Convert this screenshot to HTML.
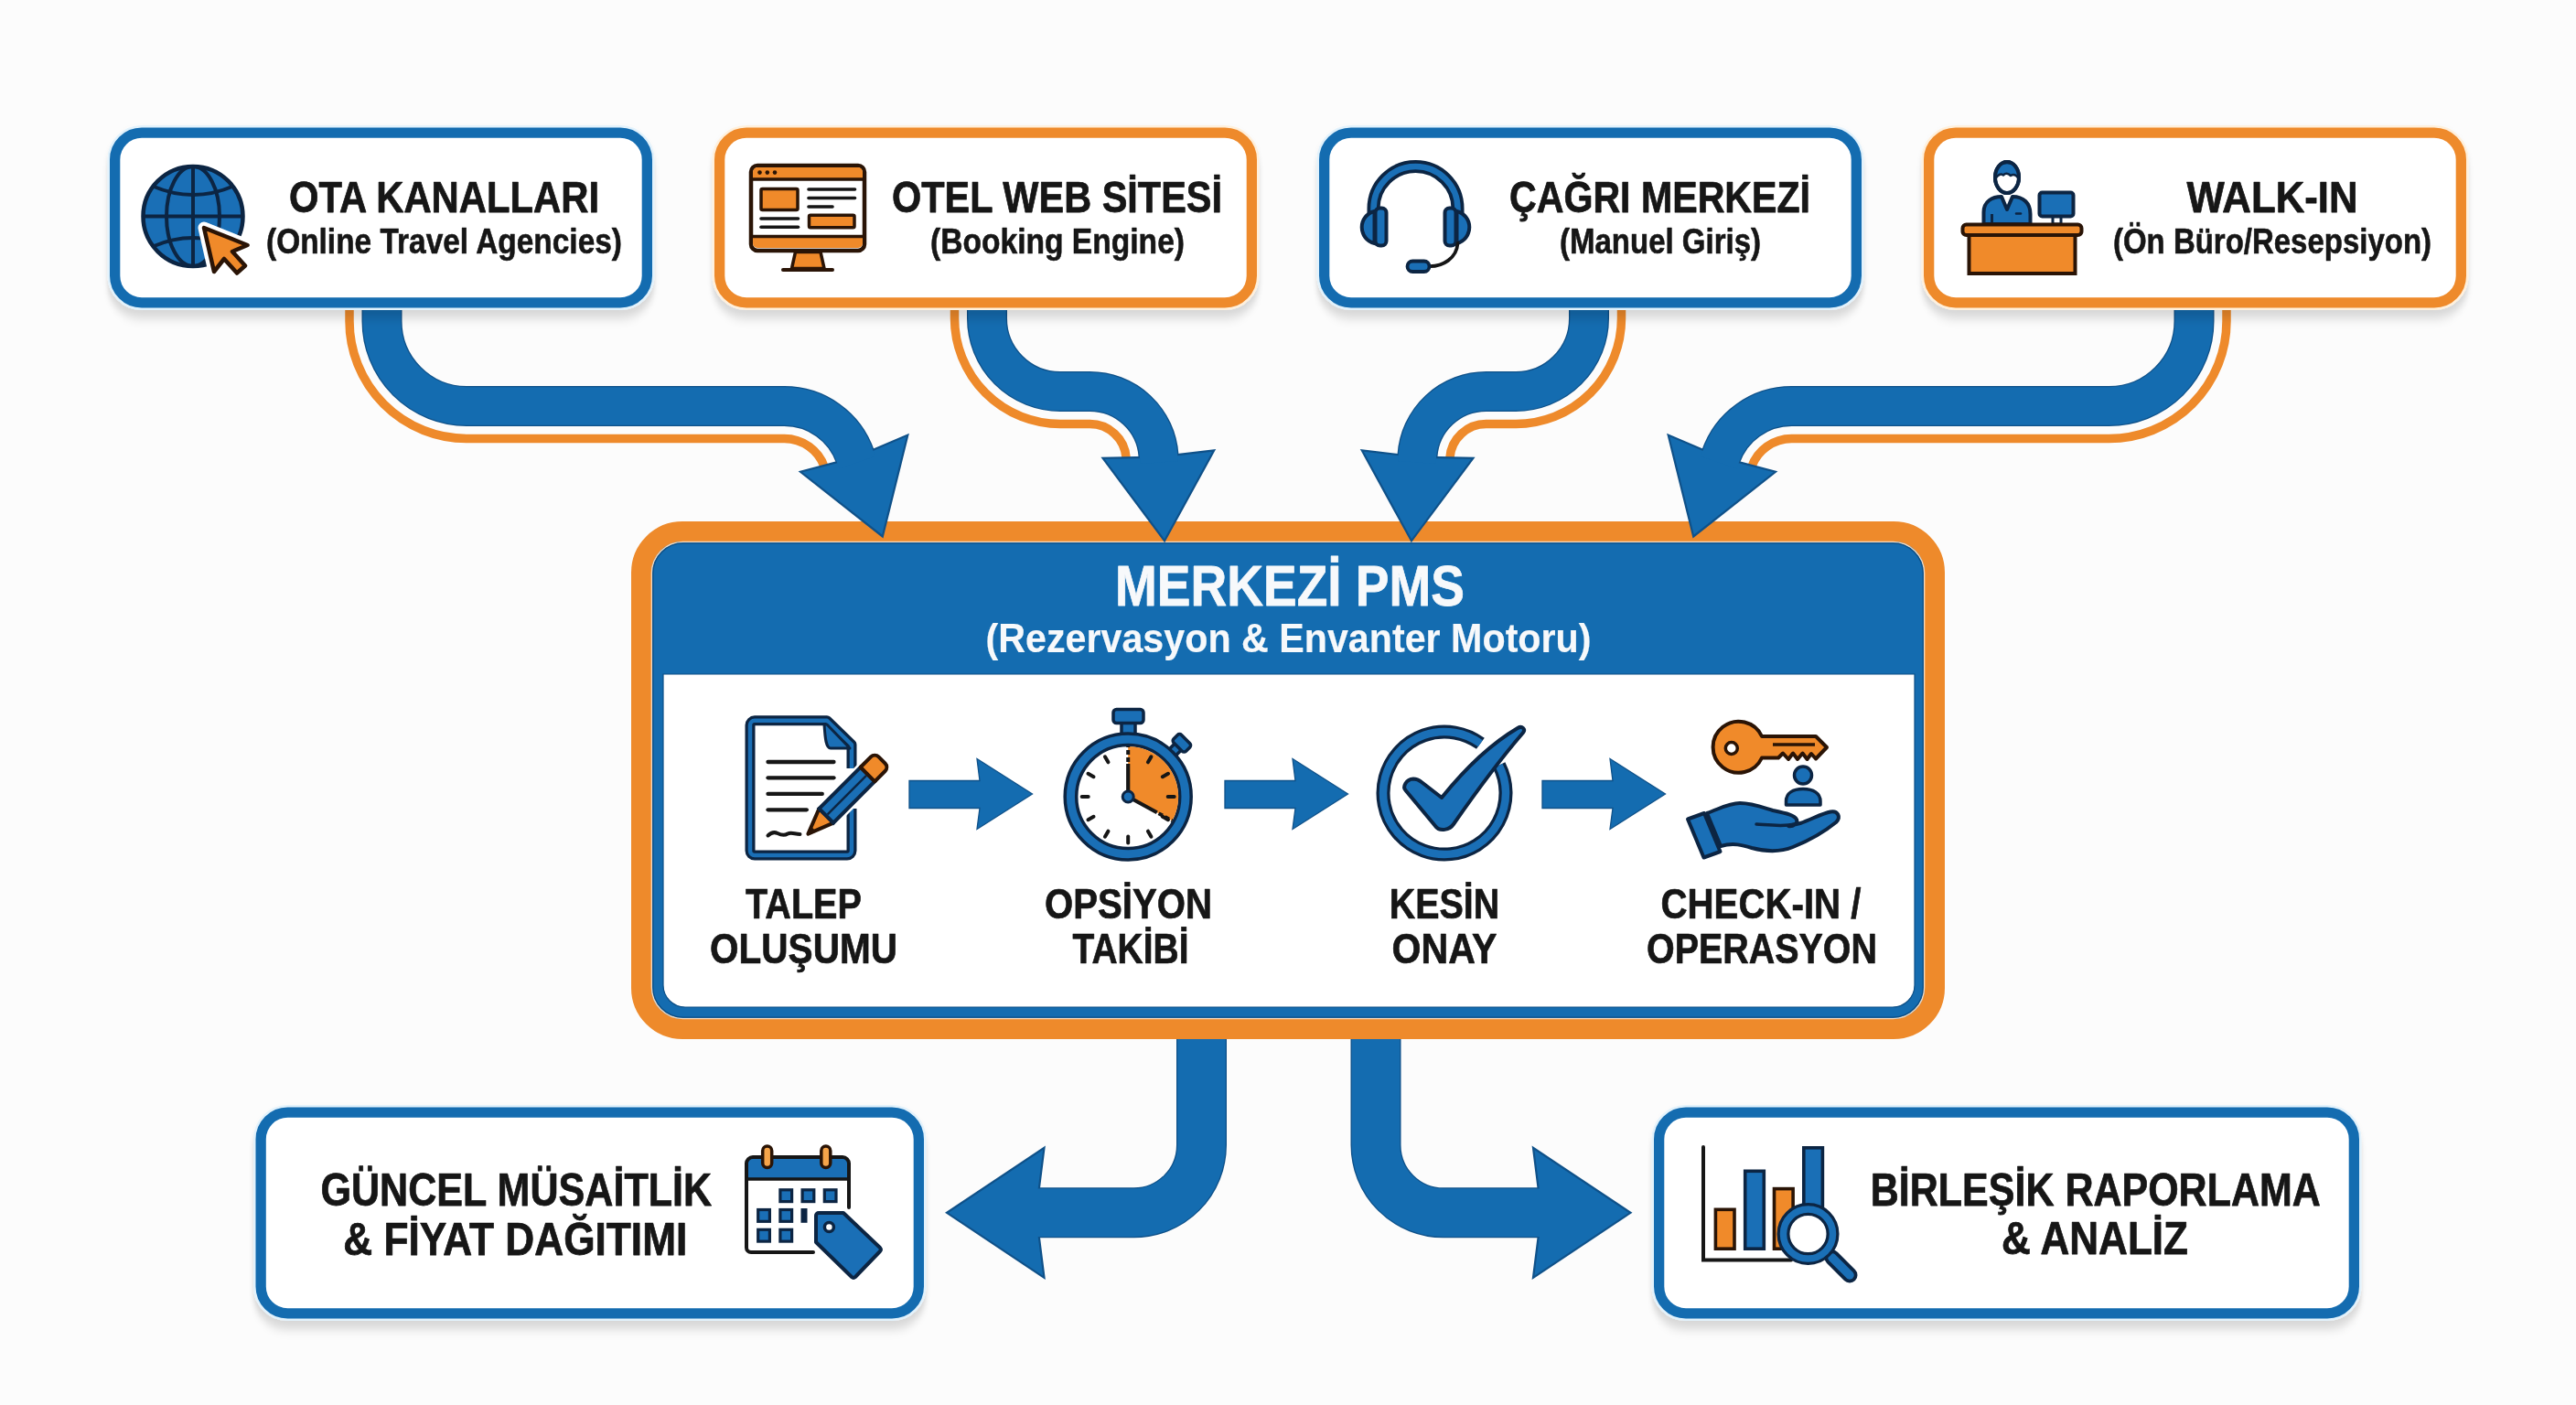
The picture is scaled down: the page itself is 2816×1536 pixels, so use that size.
<!DOCTYPE html>
<html><head><meta charset="utf-8"><style>
html,body{margin:0;padding:0;background:#fcfcfc;}
body{width:2816px;height:1536px;overflow:hidden;}
svg{display:block;font-family:"Liberation Sans", sans-serif;will-change:transform;}
</style></head><body>
<svg width="2816" height="1536" viewBox="0 0 2816 1536">
<defs>
<filter id="sh" x="-10%" y="-20%" width="120%" height="150%">
<feDropShadow dx="0" dy="9" stdDeviation="2.5 6" flood-color="#000" flood-opacity="0.15"/>
</filter>
<filter id="sh2" x="-10%" y="-20%" width="120%" height="150%">
<feDropShadow dx="0" dy="2" stdDeviation="2" flood-color="#000" flood-opacity="0.10"/>
</filter>
</defs>
<rect width="2816" height="1536" fill="#fcfcfc"/>

<g><path d="M1313.50,1130.00 L1313.50,1251.80 A74.00,74.00 0 0 1 1239.50,1325.80 L1130.50,1325.80" fill="none" stroke="#0f5189" stroke-width="55"/>
<polygon points="1141.50,1396.80 1035.00,1325.80 1141.50,1254.80 1132.50,1325.80" fill="#146cb0" stroke="#0f5189" stroke-width="2.2" stroke-linejoin="miter"/>
<path d="M1313.50,1130.00 L1313.50,1251.80 A74.00,74.00 0 0 1 1239.50,1325.80 L1130.50,1325.80 L1126.50,1325.80" fill="none" stroke="#146cb0" stroke-width="52.4"/></g>
<g transform="translate(2817.5,0) scale(-1,1)"><path d="M1313.50,1130.00 L1313.50,1251.80 A74.00,74.00 0 0 1 1239.50,1325.80 L1130.50,1325.80" fill="none" stroke="#0f5189" stroke-width="55"/>
<polygon points="1141.50,1396.80 1035.00,1325.80 1141.50,1254.80 1132.50,1325.80" fill="#146cb0" stroke="#0f5189" stroke-width="2.2" stroke-linejoin="miter"/>
<path d="M1313.50,1130.00 L1313.50,1251.80 A74.00,74.00 0 0 1 1239.50,1325.80 L1130.50,1325.80 L1126.50,1325.80" fill="none" stroke="#146cb0" stroke-width="52.4"/></g>
<rect x="701" y="581" width="1414" height="544" rx="45" fill="#146cb0" stroke="#ee8a2b" stroke-width="22"/>
<rect x="712.5" y="592.5" width="1391" height="521" rx="34" fill="none" stroke="#f3d9bf" stroke-width="1.6"/>
<rect x="713.8" y="593.8" width="1388.4" height="518.4" rx="33" fill="none" stroke="#0d4f86" stroke-width="1.3"/>
<path d="M725,737 H2093 V1077 A24,24 0 0 1 2069,1101 H749 A24,24 0 0 1 725,1077 Z" fill="#ffffff" stroke="#0d4f86" stroke-width="1.2"/>
<text x="1410" y="662" font-size="62.5" font-weight="bold" fill="#f7f9fb" text-anchor="middle" textLength="382" lengthAdjust="spacingAndGlyphs" stroke="#f7f9fb" stroke-width="0.8" stroke-linejoin="round" >MERKEZİ PMS</text>
<text x="1408.5" y="713" font-size="45" font-weight="bold" fill="#f7f9fb" text-anchor="middle" textLength="662" lengthAdjust="spacingAndGlyphs" stroke="#f7f9fb" stroke-width="0.2" stroke-linejoin="round" >(Rezervasyon &amp; Envanter Motoru)</text>
<g><path d="M382.00,326.00 L382.00,351.00 A128.50,128.50 0 0 0 510.50,479.50 L857.40,479.50 A46.50,46.50 0 0 1 901.39,510.94 L902.20,513.30" fill="none" stroke="#ee8a2b" stroke-width="9.5"/>
<path d="M417.50,326.00 L417.50,351.00 A93.00,93.00 0 0 0 510.50,444.00 L857.40,444.00 A82.00,82.00 0 0 1 934.98,499.44 L935.79,501.80" fill="none" stroke="#0f5189" stroke-width="44"/>
<polygon points="992.34,475.57 964.78,586.48 875.03,515.74 935.14,499.91" fill="#146cb0" stroke="#0f5189" stroke-width="2.2" stroke-linejoin="miter"/>
<path d="M417.50,326.00 L417.50,351.00 A93.00,93.00 0 0 0 510.50,444.00 L857.40,444.00 A82.00,82.00 0 0 1 934.98,499.44 L935.79,501.80 L937.08,505.59" fill="none" stroke="#146cb0" stroke-width="41.4"/>
<path d="M1043.50,326.00 L1043.50,348.00 A115.50,115.50 0 0 0 1159.00,463.50 L1191.40,463.50 A39.80,39.80 0 0 1 1231.10,500.52 L1231.35,504.02" fill="none" stroke="#ee8a2b" stroke-width="9.5"/>
<path d="M1079.00,326.00 L1079.00,348.00 A80.00,80.00 0 0 0 1159.00,428.00 L1191.40,428.00 A75.30,75.30 0 0 1 1266.52,498.05 L1266.76,501.54" fill="none" stroke="#0f5189" stroke-width="44"/>
<polygon points="1327.26,492.30 1273.04,591.32 1205.56,500.81 1266.62,499.54" fill="#146cb0" stroke="#0f5189" stroke-width="2.2" stroke-linejoin="miter"/>
<path d="M1079.00,326.00 L1079.00,348.00 A80.00,80.00 0 0 0 1159.00,428.00 L1191.40,428.00 A75.30,75.30 0 0 1 1266.52,498.05 L1266.76,501.54 L1267.04,505.53" fill="none" stroke="#146cb0" stroke-width="41.4"/></g>
<g transform="translate(2816,0) scale(-1,1)"><path d="M382.00,326.00 L382.00,351.00 A128.50,128.50 0 0 0 510.50,479.50 L857.40,479.50 A46.50,46.50 0 0 1 901.39,510.94 L902.20,513.30" fill="none" stroke="#ee8a2b" stroke-width="9.5"/>
<path d="M417.50,326.00 L417.50,351.00 A93.00,93.00 0 0 0 510.50,444.00 L857.40,444.00 A82.00,82.00 0 0 1 934.98,499.44 L935.79,501.80" fill="none" stroke="#0f5189" stroke-width="44"/>
<polygon points="992.34,475.57 964.78,586.48 875.03,515.74 935.14,499.91" fill="#146cb0" stroke="#0f5189" stroke-width="2.2" stroke-linejoin="miter"/>
<path d="M417.50,326.00 L417.50,351.00 A93.00,93.00 0 0 0 510.50,444.00 L857.40,444.00 A82.00,82.00 0 0 1 934.98,499.44 L935.79,501.80 L937.08,505.59" fill="none" stroke="#146cb0" stroke-width="41.4"/>
<path d="M1043.50,326.00 L1043.50,348.00 A115.50,115.50 0 0 0 1159.00,463.50 L1191.40,463.50 A39.80,39.80 0 0 1 1231.10,500.52 L1231.35,504.02" fill="none" stroke="#ee8a2b" stroke-width="9.5"/>
<path d="M1079.00,326.00 L1079.00,348.00 A80.00,80.00 0 0 0 1159.00,428.00 L1191.40,428.00 A75.30,75.30 0 0 1 1266.52,498.05 L1266.76,501.54" fill="none" stroke="#0f5189" stroke-width="44"/>
<polygon points="1327.26,492.30 1273.04,591.32 1205.56,500.81 1266.62,499.54" fill="#146cb0" stroke="#0f5189" stroke-width="2.2" stroke-linejoin="miter"/>
<path d="M1079.00,326.00 L1079.00,348.00 A80.00,80.00 0 0 0 1159.00,428.00 L1191.40,428.00 A75.30,75.30 0 0 1 1266.52,498.05 L1266.76,501.54 L1267.04,505.53" fill="none" stroke="#146cb0" stroke-width="41.4"/></g>
<rect x="125.65" y="145.15" width="581.7" height="185.7" rx="29.35" ry="29.35" fill="#ffffff" stroke="#e2f2fc" stroke-width="16.3" filter="url(#sh)"/><rect x="125.65" y="145.15" width="581.7" height="185.7" rx="29.35" ry="29.35" fill="#ffffff" stroke="#146cb0" stroke-width="11.3"/>
<rect x="786.65" y="145.15" width="581.7" height="185.7" rx="29.35" ry="29.35" fill="#ffffff" stroke="#fff0dc" stroke-width="16.3" filter="url(#sh)"/><rect x="786.65" y="145.15" width="581.7" height="185.7" rx="29.35" ry="29.35" fill="#ffffff" stroke="#ee8a2b" stroke-width="11.3"/>
<rect x="1447.65" y="145.15" width="581.7" height="185.7" rx="29.35" ry="29.35" fill="#ffffff" stroke="#e2f2fc" stroke-width="16.3" filter="url(#sh)"/><rect x="1447.65" y="145.15" width="581.7" height="185.7" rx="29.35" ry="29.35" fill="#ffffff" stroke="#146cb0" stroke-width="11.3"/>
<rect x="2108.65" y="145.15" width="581.7" height="185.7" rx="29.35" ry="29.35" fill="#ffffff" stroke="#fff0dc" stroke-width="16.3" filter="url(#sh)"/><rect x="2108.65" y="145.15" width="581.7" height="185.7" rx="29.35" ry="29.35" fill="#ffffff" stroke="#ee8a2b" stroke-width="11.3"/>
<text x="485.5" y="232" font-size="47.5" font-weight="bold" fill="#161616" text-anchor="middle" textLength="339" lengthAdjust="spacingAndGlyphs" stroke="#161616" stroke-width="0.75" stroke-linejoin="round" >OTA KANALLARI</text>
<text x="485.5" y="277" font-size="38" font-weight="bold" fill="#161616" text-anchor="middle" textLength="389" lengthAdjust="spacingAndGlyphs" stroke="#161616" stroke-width="0.6" stroke-linejoin="round" >(Online Travel Agencies)</text>
<text x="1155.5" y="232" font-size="47.5" font-weight="bold" fill="#161616" text-anchor="middle" textLength="361" lengthAdjust="spacingAndGlyphs" stroke="#161616" stroke-width="0.75" stroke-linejoin="round" >OTEL WEB SİTESİ</text>
<text x="1156" y="277" font-size="38" font-weight="bold" fill="#161616" text-anchor="middle" textLength="278" lengthAdjust="spacingAndGlyphs" stroke="#161616" stroke-width="0.6" stroke-linejoin="round" >(Booking Engine)</text>
<text x="1814.5" y="232" font-size="47.5" font-weight="bold" fill="#161616" text-anchor="middle" textLength="329" lengthAdjust="spacingAndGlyphs" stroke="#161616" stroke-width="0.75" stroke-linejoin="round" >ÇAĞRI MERKEZİ</text>
<text x="1815" y="277" font-size="38" font-weight="bold" fill="#161616" text-anchor="middle" textLength="220" lengthAdjust="spacingAndGlyphs" stroke="#161616" stroke-width="0.6" stroke-linejoin="round" >(Manuel Giriş)</text>
<text x="2484" y="232" font-size="47.5" font-weight="bold" fill="#161616" text-anchor="middle" textLength="187" lengthAdjust="spacingAndGlyphs" stroke="#161616" stroke-width="0.75" stroke-linejoin="round" >WALK-IN</text>
<text x="2484" y="277" font-size="38" font-weight="bold" fill="#161616" text-anchor="middle" textLength="348" lengthAdjust="spacingAndGlyphs" stroke="#161616" stroke-width="0.6" stroke-linejoin="round" >(Ön Büro/Resepsiyon)</text>
<text x="878.5" y="1004" font-size="46.5" font-weight="bold" fill="#161616" text-anchor="middle" textLength="127" lengthAdjust="spacingAndGlyphs" stroke="#161616" stroke-width="0.7" stroke-linejoin="round" >TALEP</text>
<text x="878.5" y="1053" font-size="46.5" font-weight="bold" fill="#161616" text-anchor="middle" textLength="205" lengthAdjust="spacingAndGlyphs" stroke="#161616" stroke-width="0.7" stroke-linejoin="round" >OLUŞUMU</text>
<text x="1233.5" y="1004" font-size="46.5" font-weight="bold" fill="#161616" text-anchor="middle" textLength="183" lengthAdjust="spacingAndGlyphs" stroke="#161616" stroke-width="0.7" stroke-linejoin="round" >OPSİYON</text>
<text x="1236" y="1053" font-size="46.5" font-weight="bold" fill="#161616" text-anchor="middle" textLength="127" lengthAdjust="spacingAndGlyphs" stroke="#161616" stroke-width="0.7" stroke-linejoin="round" >TAKİBİ</text>
<text x="1579" y="1004" font-size="46.5" font-weight="bold" fill="#161616" text-anchor="middle" textLength="120.5" lengthAdjust="spacingAndGlyphs" stroke="#161616" stroke-width="0.7" stroke-linejoin="round" >KESİN</text>
<text x="1579" y="1053" font-size="46.5" font-weight="bold" fill="#161616" text-anchor="middle" textLength="115" lengthAdjust="spacingAndGlyphs" stroke="#161616" stroke-width="0.7" stroke-linejoin="round" >ONAY</text>
<text x="1925" y="1004" font-size="46.5" font-weight="bold" fill="#161616" text-anchor="middle" textLength="219" lengthAdjust="spacingAndGlyphs" stroke="#161616" stroke-width="0.7" stroke-linejoin="round" >CHECK-IN /</text>
<text x="1926" y="1053" font-size="46.5" font-weight="bold" fill="#161616" text-anchor="middle" textLength="252" lengthAdjust="spacingAndGlyphs" stroke="#161616" stroke-width="0.7" stroke-linejoin="round" >OPERASYON</text>
<polygon points="994,853.5 1071,853.5 1068,829.5 1128.5,868 1068,906.5 1071,883.5 994,883.5" fill="#146cb0" stroke="#0f5189" stroke-width="1.3"/>
<polygon points="1339,853.5 1416,853.5 1413,829.5 1473.5,868 1413,906.5 1416,883.5 1339,883.5" fill="#146cb0" stroke="#0f5189" stroke-width="1.3"/>
<polygon points="1686,853.5 1763,853.5 1760,829.5 1820.5,868 1760,906.5 1763,883.5 1686,883.5" fill="#146cb0" stroke="#0f5189" stroke-width="1.3"/>
<rect x="285.15" y="1216.15" width="719.2" height="219.7" rx="29.35" ry="29.35" fill="#ffffff" stroke="#e2f2fc" stroke-width="16.3" filter="url(#sh)"/><rect x="285.15" y="1216.15" width="719.2" height="219.7" rx="29.35" ry="29.35" fill="#ffffff" stroke="#146cb0" stroke-width="11.3"/>
<rect x="1813.65" y="1216.15" width="759.7" height="219.7" rx="29.35" ry="29.35" fill="#ffffff" stroke="#e2f2fc" stroke-width="16.3" filter="url(#sh)"/><rect x="1813.65" y="1216.15" width="759.7" height="219.7" rx="29.35" ry="29.35" fill="#ffffff" stroke="#146cb0" stroke-width="11.3"/>
<text x="564.3" y="1317.5" font-size="49.4" font-weight="bold" fill="#161616" text-anchor="middle" textLength="427.6" lengthAdjust="spacingAndGlyphs" stroke="#161616" stroke-width="0.75" stroke-linejoin="round" >GÜNCEL MÜSAİTLİK</text>
<text x="563.3" y="1371.5" font-size="49.4" font-weight="bold" fill="#161616" text-anchor="middle" textLength="376" lengthAdjust="spacingAndGlyphs" stroke="#161616" stroke-width="0.75" stroke-linejoin="round" >&amp; FİYAT DAĞITIMI</text>
<text x="2290.8" y="1317.5" font-size="49.4" font-weight="bold" fill="#161616" text-anchor="middle" textLength="492" lengthAdjust="spacingAndGlyphs" stroke="#161616" stroke-width="0.75" stroke-linejoin="round" >BİRLEŞİK RAPORLAMA</text>
<text x="2290" y="1371" font-size="49.4" font-weight="bold" fill="#161616" text-anchor="middle" textLength="204" lengthAdjust="spacingAndGlyphs" stroke="#161616" stroke-width="0.75" stroke-linejoin="round" >&amp; ANALİZ</text>
<g>
<circle cx="211" cy="236.5" r="54.5" fill="#1a6fb6" stroke="#0c2543" stroke-width="4.5"/>
<ellipse cx="211" cy="236.5" rx="29" ry="54.5" fill="none" stroke="#0c2543" stroke-width="4"/>
<line x1="211" y1="182.0" x2="211" y2="291.0" stroke="#0c2543" stroke-width="4"/>
<line x1="156.5" y1="236.5" x2="265.5" y2="236.5" stroke="#0c2543" stroke-width="4"/>
<path d="M167,203.5 Q211,222.5 255,203.5" fill="none" stroke="#0c2543" stroke-width="4"/>
<path d="M167,269.5 Q211,250.5 255,269.5" fill="none" stroke="#0c2543" stroke-width="4"/>
<polygon points="223,249 234,297 245,283 259,298.5 268,290.5 254,275 270.5,268" fill="none" stroke="#ffffff" stroke-width="13" stroke-linejoin="round"/>
<polygon points="223,249 234,297 245,283 259,298.5 268,290.5 254,275 270.5,268" fill="#f08a2a" stroke="#2a1406" stroke-width="4.5" stroke-linejoin="round"/>
</g>
<g>
<rect x="821" y="181" width="124" height="93" rx="7" fill="#ffffff" stroke="#2a1406" stroke-width="4.5"/>
<path d="M823,195 V188 a5,5 0 0 1 5,-5 H938 a5,5 0 0 1 5,5 V195 Z" fill="#f08a2a"/>
<line x1="822" y1="196" x2="944" y2="196" stroke="#2a1406" stroke-width="3.5"/>
<path d="M823,259 V266 a5,5 0 0 0 5,5 H938 a5,5 0 0 0 5,-5 V259 Z" fill="#f08a2a"/>
<line x1="822" y1="258.5" x2="944" y2="258.5" stroke="#2a1406" stroke-width="3.5"/>
<circle cx="830.5" cy="188.6" r="2.3" fill="#2a1406"/>
<circle cx="838.8" cy="188.6" r="2.3" fill="#2a1406"/>
<circle cx="847" cy="188.6" r="2.3" fill="#2a1406"/>
<rect x="832" y="206.5" width="40" height="23" rx="1.5" fill="#f08a2a" stroke="#2a1406" stroke-width="3.5"/>
<rect x="884.5" y="235.3" width="49.5" height="13.5" rx="1.5" fill="#f08a2a" stroke="#2a1406" stroke-width="3.5"/>
<line x1="884" y1="207" x2="934.5" y2="207" stroke="#161616" stroke-width="3.6" stroke-linecap="round"/>
<line x1="884" y1="216.5" x2="934.5" y2="216.5" stroke="#161616" stroke-width="3.6" stroke-linecap="round"/>
<line x1="884" y1="226" x2="910" y2="226" stroke="#161616" stroke-width="3.6" stroke-linecap="round"/>
<line x1="832" y1="239" x2="872.5" y2="239" stroke="#161616" stroke-width="3.6" stroke-linecap="round"/>
<line x1="832" y1="248.2" x2="872.5" y2="248.2" stroke="#161616" stroke-width="3.6" stroke-linecap="round"/>
<polygon points="869.5,275.5 897,275.5 901,293.5 865.5,293.5" fill="#f08a2a" stroke="#2a1406" stroke-width="3.5" stroke-linejoin="round"/>
<line x1="856" y1="295" x2="910" y2="295" stroke="#2a1406" stroke-width="4" stroke-linecap="round"/>
</g>
<g>
<path d="M1501.5,236 V228 A46,46 0 0 1 1593.5,228 V236" fill="none" stroke="#0c2543" stroke-width="14"/>
<path d="M1501.5,236 V228 A46,46 0 0 1 1593.5,228 V236" fill="none" stroke="#1a6fb6" stroke-width="6.5"/>
<path d="M1502.5,231 A18,18 0 0 0 1502.5,266 Z" fill="#1a6fb6" stroke="#0c2543" stroke-width="4"/>
<path d="M1592.5,231 A18,18 0 0 1 1592.5,266 Z" fill="#1a6fb6" stroke="#0c2543" stroke-width="4"/>
<rect x="1503.5" y="227.5" width="12" height="41" rx="5" fill="#1a6fb6" stroke="#0c2543" stroke-width="4"/>
<rect x="1579.5" y="227.5" width="12" height="41" rx="5" fill="#1a6fb6" stroke="#0c2543" stroke-width="4"/>
<path d="M1593.5,266 C1592.5,282 1577.5,292 1560.5,291" fill="none" stroke="#161616" stroke-width="3.8" stroke-linecap="round"/>
<rect x="1538.5" y="285.5" width="24" height="11.5" rx="5.75" fill="#1a6fb6" stroke="#0c2543" stroke-width="3.8"/>
</g>
<g>
<rect x="2244" y="236" width="9" height="9" fill="#ffffff" stroke="#0c2543" stroke-width="3"/>
<rect x="2229.5" y="210.5" width="37" height="26" rx="3" fill="#1a6fb6" stroke="#0c2543" stroke-width="4"/>
<path d="M2168.5,245 V232 C2168.5,220 2178,215 2188,215 L2194,229 L2200,215 C2212,215 2219.5,222 2219.5,234 V245 Z" fill="#1a6fb6" stroke="#0c2543" stroke-width="4" stroke-linejoin="round"/>
<line x1="2177.5" y1="234" x2="2177.5" y2="245" stroke="#0c2543" stroke-width="3"/>
<line x1="2204" y1="233.5" x2="2209" y2="233.5" stroke="#0c2543" stroke-width="2.5" stroke-linecap="round"/>
<ellipse cx="2194" cy="194" rx="13" ry="17" fill="#ffffff" stroke="#0c2543" stroke-width="4"/>
<path d="M2181.5,195 C2181,183 2186,178 2194,178 C2203,178 2207,183 2206.5,195 C2204,191 2201,190 2198,192 C2195,189 2192,189 2190,191.5 C2187,189.5 2184,191 2181.5,195 Z" fill="#1a6fb6" stroke="#0c2543" stroke-width="2.5" stroke-linejoin="round"/>
<ellipse cx="2194" cy="194" rx="13" ry="17" fill="none" stroke="#0c2543" stroke-width="4"/>
<rect x="2152.5" y="256" width="116" height="43" fill="#f08a2a" stroke="#2a1406" stroke-width="4"/>
<rect x="2145.5" y="245.5" width="130" height="11.5" rx="4" fill="#f08a2a" stroke="#2a1406" stroke-width="4"/>
</g>
<g>
<path d="M825,787.8 H904 L931,814 V930 a5,5 0 0 1 -5,5 H825 a5,5 0 0 1 -5,-5 V792.8 a5,5 0 0 1 5,-5 Z" fill="#ffffff"/>
<path d="M931,840 V814 L904,787.8 H825 a5,5 0 0 0 -5,5 V930 a5,5 0 0 0 5,5 H926 a5,5 0 0 0 5,-5 V884" fill="none" stroke="#0c2543" stroke-width="11" stroke-linejoin="round"/>
<path d="M931,840 V814 L904,787.8 H825 a5,5 0 0 0 -5,5 V930 a5,5 0 0 0 5,5 H926 a5,5 0 0 0 5,-5 V884" fill="none" stroke="#1a6fb6" stroke-width="4.5" stroke-linejoin="round"/>
<path d="M901,792 C902,808 903,818 908,818 H929 L904,792 Z" fill="#1a6fb6" stroke="#0c2543" stroke-width="3" stroke-linejoin="round"/>
<line x1="839.5" y1="833" x2="911.5" y2="833" stroke="#161616" stroke-width="4.3" stroke-linecap="round"/>
<line x1="839.5" y1="850.3" x2="911.5" y2="850.3" stroke="#161616" stroke-width="4.3" stroke-linecap="round"/>
<line x1="839.5" y1="867.9" x2="898.8" y2="867.9" stroke="#161616" stroke-width="4.3" stroke-linecap="round"/>
<line x1="839.5" y1="885.3" x2="881.8" y2="885.3" stroke="#161616" stroke-width="4.3" stroke-linecap="round"/>
<path d="M839.5,913.5 C843,910 846,909 850,911 C854,913 857,914 861,911.5 C865,909.5 869,912 874.5,912" fill="none" stroke="#161616" stroke-width="4" stroke-linecap="round"/>
</g>
<g transform="translate(882,913) rotate(-45)">
<path d="M2,0 L30,-11 H108 a6,6 0 0 1 6,6 V5 a6,6 0 0 1 -6,6 H30 Z" fill="none" stroke="#ffffff" stroke-width="9" stroke-linejoin="round"/>
<path d="M2,0 L30,-11 V11 Z" fill="#f08a2a" stroke="#2a1406" stroke-width="4" stroke-linejoin="round"/>
<path d="M0,0 L10,-4 V4 Z" fill="#2a1406"/>
<rect x="30" y="-11" width="64" height="22" fill="#1a6fb6" stroke="#0c2543" stroke-width="4"/>
<line x1="32" y1="0" x2="92" y2="0" stroke="#0c2543" stroke-width="2.5"/>
<path d="M94,-11 H110 a6,6 0 0 1 6,6 V5 a6,6 0 0 1 -6,6 H94 Z" fill="#f08a2a" stroke="#2a1406" stroke-width="4" stroke-linejoin="round"/>
</g>
<g>
<rect x="1226" y="789" width="15" height="14" fill="#1a6fb6" stroke="#0c2543" stroke-width="3.5"/>
<rect x="1217" y="775.5" width="33" height="15" rx="3.5" fill="#1a6fb6" stroke="#0c2543" stroke-width="3.5"/>
<g transform="translate(1233.2,871) rotate(-45)">
<rect x="68" y="-5" width="10" height="10" fill="#1a6fb6" stroke="#0c2543" stroke-width="3.5"/>
<rect x="77" y="-9.5" width="12" height="19" rx="3" fill="#1a6fb6" stroke="#0c2543" stroke-width="3.5"/>
</g>
<circle cx="1233.2" cy="871" r="62.75" fill="#ffffff" stroke="#0c2543" stroke-width="16"/>
<circle cx="1233.2" cy="871" r="62.75" fill="none" stroke="#1a6fb6" stroke-width="9"/>
<path d="M1233.2,871 V816 A55,55 0 0 1 1281.49,897.33 Z" fill="#f08a2a"/>
<line x1="1254.95" y1="833.33" x2="1258.45" y2="827.27" stroke="#161616" stroke-width="4" stroke-linecap="round"/>
<line x1="1270.87" y1="849.25" x2="1276.93" y2="845.75" stroke="#161616" stroke-width="4" stroke-linecap="round"/>
<line x1="1276.70" y1="871.00" x2="1283.70" y2="871.00" stroke="#161616" stroke-width="4" stroke-linecap="round"/>
<line x1="1270.87" y1="892.75" x2="1276.93" y2="896.25" stroke="#161616" stroke-width="4" stroke-linecap="round"/>
<line x1="1254.95" y1="908.67" x2="1258.45" y2="914.73" stroke="#161616" stroke-width="4" stroke-linecap="round"/>
<line x1="1233.20" y1="914.50" x2="1233.20" y2="921.50" stroke="#161616" stroke-width="4" stroke-linecap="round"/>
<line x1="1211.45" y1="908.67" x2="1207.95" y2="914.73" stroke="#161616" stroke-width="4" stroke-linecap="round"/>
<line x1="1195.53" y1="892.75" x2="1189.47" y2="896.25" stroke="#161616" stroke-width="4" stroke-linecap="round"/>
<line x1="1189.70" y1="871.00" x2="1182.70" y2="871.00" stroke="#161616" stroke-width="4" stroke-linecap="round"/>
<line x1="1195.53" y1="849.25" x2="1189.47" y2="845.75" stroke="#161616" stroke-width="4" stroke-linecap="round"/>
<line x1="1211.45" y1="833.33" x2="1207.95" y2="827.27" stroke="#161616" stroke-width="4" stroke-linecap="round"/>
<line x1="1233.2" y1="871" x2="1233.2" y2="835" stroke="#161616" stroke-width="4.2"/>
<line x1="1233.2" y1="833" x2="1233.2" y2="816" stroke="#161616" stroke-width="4" stroke-dasharray="5,3"/>
<line x1="1233.2" y1="871" x2="1264.81" y2="888.23" stroke="#161616" stroke-width="4.2"/>
<line x1="1266.56" y1="889.19" x2="1281.49" y2="897.33" stroke="#161616" stroke-width="4" stroke-dasharray="5,3"/>
<circle cx="1233.2" cy="871" r="6" fill="#1a6fb6" stroke="#0c2543" stroke-width="3"/>
</g>
<g>
<path d="M1638.70,836.58 A67,67 0 1 1 1618.38,812.80" fill="none" stroke="#0c2543" stroke-width="15" stroke-linecap="butt"/>
<path d="M1638.70,836.58 A67,67 0 1 1 1618.38,812.80" fill="none" stroke="#1a6fb6" stroke-width="8.5"/>
<path d="M1536.5,864 C1533,860 1537,852 1545,851.5 C1549,851.5 1551,852.5 1554,855 L1576,872 C1597,846 1625,816 1659,796 C1664,793 1668,797 1665,801 C1640,830 1612,868 1589,901 C1585,907 1574,910 1569,903 Z" fill="#1a6fb6" stroke="#0c2543" stroke-width="4" stroke-linejoin="round"/>
</g>
<g>
<path d="M1926,805 H1985 L1997,817 L1985,829.5 L1980,824 L1975.5,830 L1970.5,823.5 L1965,830 L1960,823.5 L1955,830 L1949,823.5 L1944,828.5 H1926 A28,28 0 1 1 1926,805 Z" fill="#f08a2a" stroke="#2a1406" stroke-width="4" stroke-linejoin="round"/>
<circle cx="1892.8" cy="818" r="6.5" fill="#ffffff" stroke="#2a1406" stroke-width="3.5"/>
<line x1="1938" y1="814" x2="1984" y2="814" stroke="#2a1406" stroke-width="3.5"/>
<circle cx="1971" cy="847.5" r="9.5" fill="#1a6fb6" stroke="#0c2543" stroke-width="3.5"/>
<path d="M1952.5,880 V876 C1952.5,867 1960,862.5 1971,862.5 C1982,862.5 1990,867 1990,876 V880 Z" fill="#1a6fb6" stroke="#0c2543" stroke-width="3.5" stroke-linejoin="round"/>
<path d="M1866,889 C1880,884 1890,878 1902,878 C1915,878 1925,882 1938,886 C1952,889 1962,891 1964,896 C1966,900 1960,904 1955,903 L1968,900 C1980,896 1992,889 2001,887.5 C2009,886 2013,893 2007,899 C1996,908 1980,918 1960,926 C1945,932 1930,931 1915,927 C1905,924 1895,921 1881,925 Z" fill="#1a6fb6" stroke="#0c2543" stroke-width="4" stroke-linejoin="round"/>
<path d="M1920,901 C1935,902 1950,904 1962,901" fill="none" stroke="#0c2543" stroke-width="3.5" stroke-linecap="round"/>
<polygon points="1845,895.5 1863,889 1880.5,931 1862.5,937.5" fill="#1a6fb6" stroke="#0c2543" stroke-width="4" stroke-linejoin="round"/>
</g>
<g>
<path d="M816,1289 V1272 a7,7 0 0 1 7,-7 H921 a7,7 0 0 1 7,7 V1289 Z" fill="#1a6fb6"/>
<path d="M889,1369 H821 a5,5 0 0 1 -5,-5 V1272 a7,7 0 0 1 7,-7 H921 a7,7 0 0 1 7,7 V1320" fill="none" stroke="#161616" stroke-width="4" stroke-linecap="round" stroke-linejoin="round"/>
<line x1="816" y1="1289" x2="928" y2="1289" stroke="#161616" stroke-width="3.5"/>
<rect x="833.7" y="1253" width="10" height="23.5" rx="5" fill="#f6a54a" stroke="#2a1406" stroke-width="3.5"/>
<rect x="897.8" y="1253" width="10" height="23.5" rx="5" fill="#f6a54a" stroke="#2a1406" stroke-width="3.5"/>
<rect x="852.9" y="1300.8" width="12.7" height="12.8" fill="#1a6fb6" stroke="#0c2543" stroke-width="3.2"/>
<rect x="877.1" y="1300.8" width="12.7" height="12.8" fill="#1a6fb6" stroke="#0c2543" stroke-width="3.2"/>
<rect x="901.3" y="1300.8" width="12.7" height="12.8" fill="#1a6fb6" stroke="#0c2543" stroke-width="3.2"/>
<rect x="828.7" y="1322.5" width="12.7" height="12.8" fill="#1a6fb6" stroke="#0c2543" stroke-width="3.2"/>
<rect x="852.9" y="1322.5" width="12.7" height="12.8" fill="#1a6fb6" stroke="#0c2543" stroke-width="3.2"/>
<rect x="828.7" y="1344.3" width="12.7" height="12.8" fill="#1a6fb6" stroke="#0c2543" stroke-width="3.2"/>
<rect x="852.9" y="1344.3" width="12.7" height="12.8" fill="#1a6fb6" stroke="#0c2543" stroke-width="3.2"/>
<rect x="877" y="1322.5" width="4" height="12.8" fill="#0c2543" stroke="#0c2543" stroke-width="3"/>
<path d="M892,1329 a3,3 0 0 1 3,-3 H922 L962,1364 a3,3 0 0 1 0,4 L935,1396 a3,3 0 0 1 -4,0 L892,1358 Z" fill="none" stroke="#ffffff" stroke-width="8" stroke-linejoin="round"/>
<path d="M892,1329 a3,3 0 0 1 3,-3 H922 L962,1364 a3,3 0 0 1 0,4 L935,1396 a3,3 0 0 1 -4,0 L892,1358 Z" fill="#1a6fb6" stroke="#0c2543" stroke-width="4" stroke-linejoin="round"/>
<circle cx="906.4" cy="1341.6" r="5" fill="#ffffff" stroke="#0c2543" stroke-width="3.5"/>
</g>
<g>
<path d="M1862,1254 V1377.5 H1958" fill="none" stroke="#161616" stroke-width="4" stroke-linecap="round"/>
<rect x="1875.3999999999999" y="1322.3" width="20.6" height="42.9" fill="#f08a2a" stroke="#2a1406" stroke-width="3.6"/>
<rect x="1907.7" y="1280.3" width="20.6" height="84.9" fill="#1a6fb6" stroke="#0c2543" stroke-width="3.6"/>
<rect x="1939.5" y="1299.6" width="20.6" height="65.60000000000005" fill="#f08a2a" stroke="#2a1406" stroke-width="3.6"/>
<rect x="1971.8" y="1254.8" width="20.6" height="110.4" fill="#1a6fb6" stroke="#0c2543" stroke-width="3.6"/>
<line x1="2003" y1="1375" x2="2022" y2="1394" stroke="#0c2543" stroke-width="17" stroke-linecap="round"/>
<line x1="2003" y1="1375" x2="2022" y2="1394" stroke="#1a6fb6" stroke-width="9.5" stroke-linecap="round"/>
<circle cx="1976.5" cy="1349" r="27" fill="#ffffff" stroke="#0c2543" stroke-width="14"/>
<circle cx="1976.5" cy="1349" r="27" fill="none" stroke="#1a6fb6" stroke-width="7.5"/>
</g>
</svg>
</body></html>
